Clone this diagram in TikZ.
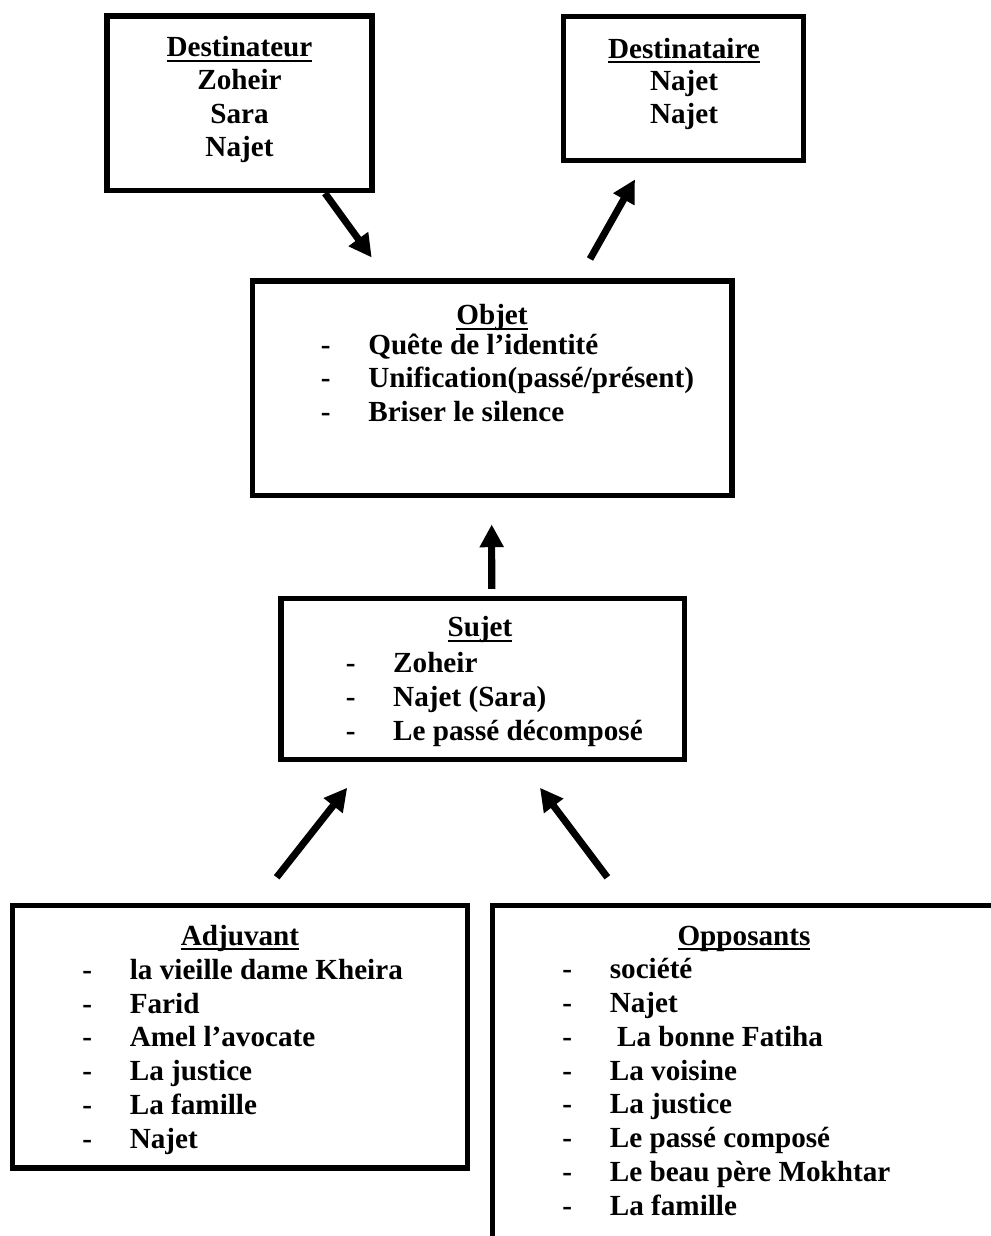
\documentclass[tikz,border=0pt]{standalone}
\usepackage{fontspec}
\setmainfont{Liberation Serif}
\usetikzlibrary{arrows.meta, positioning, calc}

\newsavebox{\titrebox}
\newcommand{\souligne}[1]{\sbox\titrebox{#1}\rlap{\rule[-2.9pt]{\wd\titrebox}{1.1pt}}\usebox\titrebox}
\newcommand{\tiret}{\makebox[0.95cm][l]{-}}

\tikzset{
  cadre/.style={draw, line width=3.1pt, inner sep=0pt},
  titre/.style={anchor=base, inner sep=0pt},
  liste/.style={anchor=base west, inner sep=0pt, align=left},
  noms/.style={anchor=base, inner sep=0pt, align=center},
  fleche/.style={line width=4pt, -{Triangle[length=13pt, width=13pt]}}
}

\begin{document}
\begin{tikzpicture}[x=0.02cm, y=-0.02cm, font=\fontsize{16.6}{19.2}\selectfont\bfseries]
    \useasboundingbox (0,0) rectangle (990,1236);

    % Destinateur (lists are placed by the baseline of their last line)
    \node[cadre, minimum width=5.30cm, minimum height=3.49cm] (destinateur) at (239.5,103.25) {};
    \node[titre] (destinateurT) at (239.5,56.7) {\souligne{Destinateur}};
    \node[noms] (destinateurL) at (239.5,157) {Zoheir\\Sara\\Najet};

    % Destinataire
    \node[cadre, minimum width=4.80cm, minimum height=2.88cm] (destinataire) at (683.7,88.3) {};
    \node[titre] (destinataireT) at (684,58.3) {\souligne{Destinataire}};
    \node[noms] (destinataireL) at (684,124) {Najet\\Najet};

    % Objet
    \node[cadre, minimum width=9.60cm, minimum height=4.286cm] (objet) at (492.2,388.35) {};
    \node[titre] (objetT) at (492,325) {\souligne{Objet}};
    \node[liste] (objetL) at (320.5,421.5) {\tiret Quête de l’identité\\
        \tiret Unification(passé/présent)\\
        \tiret Briser le silence};

    % Sujet
    \node[cadre, minimum width=8.07cm, minimum height=3.224cm] (sujet) at (482.75,679.1) {};
    \node[titre] (sujetT) at (480,636.7) {\souligne{Sujet}};
    \node[liste] (sujetL) at (345.4,740) {\tiret Zoheir\\
        \tiret Najet (Sara)\\
        \tiret Le passé décomposé};

    % Adjuvant
    \node[cadre, minimum width=9.112cm, minimum height=5.246cm] (adjuvant) at (240,1036.65) {};
    \node[titre] (adjuvantT) at (240,945) {\souligne{Adjuvant}};
    \node[liste] (adjuvantL) at (82,1148) {\tiret la vieille dame Kheira\\
        \tiret Farid\\
        \tiret Amel l’avocate\\
        \tiret La justice\\
        \tiret La famille\\
        \tiret Najet};

    % Opposants (box runs off the page)
    \node[cadre, minimum width=10.6cm, minimum height=7cm] (opposants) at (757.2,1080.5) {};
    \node[titre] (opposantsT) at (744,945) {\souligne{Opposants}};
    \node[liste] (opposantsL) at (562,1215) {\tiret société\\
        \tiret Najet\\
        \tiret\ La bonne Fatiha\\
        \tiret La voisine\\
        \tiret La justice\\
        \tiret Le passé composé\\
        \tiret Le beau père Mokhtar\\
        \tiret La famille};

    % Arrows
    \draw[fleche] ($(destinateur.south)+(85.5,0)$) -- ($(objet.north)+(-120.5,-21)$);
    \draw[fleche] ($(objet.north)+(97.8,-19.5)$) -- ($(destinataire.south)+(-48.7,16.4)$);
    \draw[fleche] ($(sujet.north)+(9,-7)$) -- ($(objet.south)+(-0.5,26.2)$);
    \draw[fleche] ($(adjuvant.north)+(36.7,-25.5)$) -- ($(sujet.south)+(-135.5,25.3)$);
    \draw[fleche] ($(opposants.north west)+(117.8,-25.5)$) -- ($(sujet.south)+(57.2,25.3)$);
\end{tikzpicture}
\end{document}
